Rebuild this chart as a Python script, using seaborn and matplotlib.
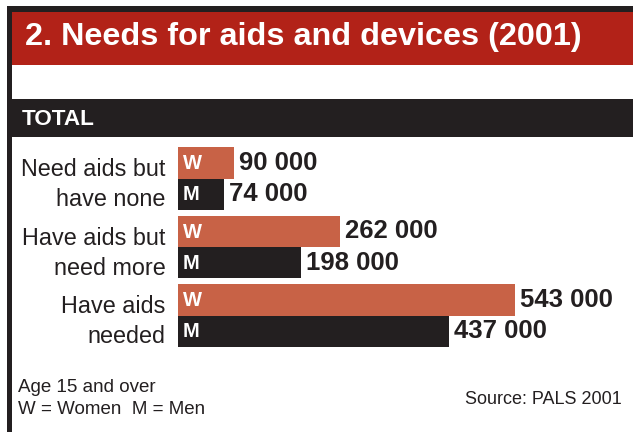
import matplotlib
matplotlib.use("Agg")
import matplotlib.pyplot as plt
import seaborn as sns
import pandas as pd
from matplotlib.patches import Rectangle

# ---- data ----
categories = ["Need aids but\nhave none", "Have aids but\nneed more", "Have aids\nneeded"]
women = [90000, 262000, 543000]
men = [74000, 198000, 437000]
sexes = ["W", "M"]
title = "2. Needs for aids and devices (2001)"
section = "TOTAL"
note_lines = ["Age 15 and over", "W = Women  M = Men"]
source = "Source: PALS 2001"

RED = "#B22218"
ORANGE = "#C86246"
DARK = "#231F20"

df = pd.DataFrame({
    "category": categories * 2,
    "sex": ["W"] * len(categories) + ["M"] * len(categories),
    "value": women + men,
})

sns.set_theme(style="white")
plt.rcParams['font.family'] = ['Liberation Sans', 'DejaVu Sans']

W, H = 633, 432
fig = plt.figure(figsize=(W / 100, H / 100), dpi=100)
fig.patch.set_facecolor("white")


def fx(px):
    return px / W


def fy(py):
    return 1 - py / H


def rect(x0, y0, x1, y1, color):
    fig.add_artist(Rectangle((fx(x0), fy(y1)), fx(x1) - fx(x0), (y1 - y0) / H,
                             transform=fig.transFigure, facecolor=color,
                             edgecolor='none', zorder=0))


# frame and banners
rect(7, 6.5, W, 12, DARK)
rect(7, 6.5, 12, H, DARK)
rect(12, 12, W, 65, RED)
rect(12, 99, W, 137, DARK)

fig.text(fx(25), fy(45), title, color="white", fontsize=23.3, fontweight="bold",
         ha="left", va="baseline")
fig.text(fx(22), fy(125), section, color="white", fontsize=16.2, fontweight="bold",
         ha="left", va="baseline")
fig.text(fx(18), fy(392), note_lines[0], color=DARK, fontsize=13.5, ha="left", va="baseline")
fig.text(fx(18), fy(414), note_lines[1], color=DARK, fontsize=13.5, ha="left", va="baseline")
fig.text(fx(622), fy(404), source, color=DARK, fontsize=13.0, ha="right", va="baseline")

# bars
ax_top, ax_bot = 144.25, 349.75
ax = fig.add_axes([fx(178), fy(ax_bot), fx(W) - fx(178), (ax_bot - ax_top) / H])
ax.patch.set_alpha(0)
sns.barplot(data=df, x="value", y="category", hue="sex", hue_order=sexes,
            order=categories, palette={"W": ORANGE, "M": DARK}, width=0.91,
            orient="h", saturation=1, legend=False, linewidth=0, ax=ax)
ax.set_xlim(0, 734000)
ax.set_ylim(2.5, -0.5)
ax.set_xlabel("")
ax.set_ylabel("")
ax.set_xticks([])
sns.despine(ax=ax, left=True, bottom=True)
ax.tick_params(axis="y", length=0, pad=9, labelsize=16.8, labelcolor=DARK)
for lbl in ax.get_yticklabels():
    lbl.set_linespacing(1.4)

series = {"W": women, "M": men}
for sex, cont in zip(sexes, ax.containers):
    labels = [f"{v:,}".replace(",", " ") for v in series[sex]]
    ax.bar_label(cont, labels=labels, padding=3.6, fontsize=18.5,
                 fontweight="bold", color=DARK)
    for bar in cont:
        bar.set_antialiased(False)
        ax.annotate(sex, xy=(0, bar.get_y() + bar.get_height() / 2),
                    xytext=(3.6, -0.5), textcoords="offset points",
                    ha="left", va="center", color="white",
                    fontweight="bold", fontsize=14.5)

fig.savefig("out.png", dpi=100)
